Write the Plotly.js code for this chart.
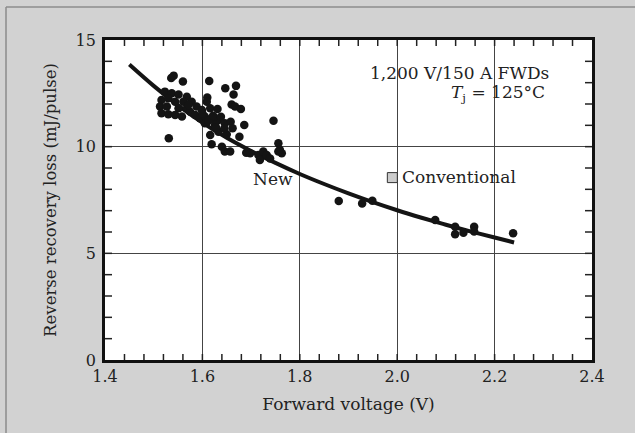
<!DOCTYPE html>
<html>
<head>
<meta charset="utf-8">
<script src="https://cdn.plot.ly/plotly-3.0.1.min.js"></script>
<style>
  html, body { margin: 0; padding: 0; background: #d2d2d2; }
  #chart { width: 635px; height: 433px; }
</style>
</head>
<body>
<div id="chart"></div>
<script>
// "New" FWD measurements: forward voltage (V) and reverse recovery loss (mJ/pulse)
const newVf = [
  1.536, 1.541, 1.560, 1.523, 1.537, 1.551, 1.568, 1.516, 1.530, 1.544,
  1.561, 1.578, 1.513, 1.527, 1.551, 1.568, 1.588, 1.516, 1.530, 1.544,
  1.558, 1.575, 1.585, 1.595, 1.531, 1.571,
  1.614, 1.647, 1.669, 1.664, 1.610, 1.609, 1.660, 1.667, 1.679, 1.599,
  1.616, 1.631, 1.605, 1.619, 1.633, 1.605, 1.626, 1.646, 1.658, 1.686,
  1.616, 1.633, 1.650, 1.662, 1.676, 1.619, 1.640, 1.646, 1.657,
  1.600, 1.612, 1.622, 1.638, 1.645, 1.628,
  1.746, 1.756, 1.759, 1.763, 1.756, 1.698, 1.715, 1.725, 1.718, 1.732,
  1.739, 1.690,
  1.880, 1.928, 1.949, 2.078, 2.119, 2.119, 2.136, 2.158, 2.158, 2.238
];
const newLoss = [
  13.22, 13.33, 13.05, 12.58, 12.50, 12.45, 12.34, 12.19, 12.27, 12.11,
  12.11, 12.11, 11.88, 11.88, 11.80, 11.80, 11.88, 11.57, 11.52, 11.49,
  11.41, 11.64, 11.49, 11.33, 10.39, 11.95,
  13.08, 12.74, 12.85, 12.45, 12.30, 12.11, 11.98, 11.88, 11.77, 11.72,
  11.80, 11.77, 11.41, 11.33, 11.25, 11.10, 11.02, 11.10, 11.17, 11.02,
  10.55, 10.70, 10.58, 10.86, 10.47, 10.11, 10.00, 9.77, 9.77,
  11.55, 11.20, 11.45, 11.40, 10.85, 10.90,
  11.22, 10.16, 9.85, 9.69, 9.77, 9.69, 9.61, 9.77, 9.38, 9.61,
  9.45, 9.72,
  7.45, 7.34, 7.47, 6.56, 6.25, 5.90, 5.97, 6.25, 6.02, 5.94
];

// Fitted trend curve
const curveVf = [1.45, 1.50, 1.55, 1.60, 1.65, 1.70, 1.75, 1.80, 1.85, 1.90,
                 1.95, 2.00, 2.05, 2.10, 2.15, 2.20, 2.24];
const curveLoss = [13.85, 12.85, 11.94, 11.13, 10.42, 9.80, 9.24, 8.72, 8.25, 7.81,
                   7.40, 7.02, 6.67, 6.34, 6.03, 5.74, 5.51];

// Conventional FWD
const convVf = [1.99];
const convLoss = [8.55];

// Axis ranges and tick spacing
const xRange = [1.4, 2.4];
const yRange = [0, 15];
const xMajor = 0.2, xMinor = 0.04;
const yMajor = 5, yMinor = 1;

const FONT = 'DejaVu Serif, Liberation Serif, serif';
const INK = '#141414';
const TICKC = '#222';

const W = 635, H = 433;
const M = {l: 105, r: 43, t: 40, b: 73};
const plotW = W - M.l - M.r, plotH = H - M.t - M.b;
const xTickLen = 6 / plotH, yTickLen = 7 / plotW;   // tick lengths as paper fractions

const traces = [
  {
    x: curveVf, y: curveLoss, mode: 'lines', type: 'scatter',
    line: {color: INK, width: 4, shape: 'spline', smoothing: 1},
    hoverinfo: 'skip', showlegend: false
  },
  {
    x: newVf, y: newLoss, mode: 'markers', type: 'scatter',
    marker: {color: INK, size: 8.5, line: {width: 0}},
    showlegend: false
  },
  {
    x: convVf, y: convLoss, mode: 'markers', type: 'scatter',
    marker: {symbol: 'square', color: '#cccccc', size: 10, line: {color: '#333', width: 1}},
    showlegend: false
  }
];

// inside tick marks on all four sides, placed on the axis scales
const shapes = [];
const tickLine = {color: TICKC, width: 1.5};
const nx = Math.round((xRange[1] - xRange[0]) / xMinor);
for (let k = 1; k < nx; k++) {
  const v = Math.round((xRange[0] + k * xMinor) * 1000) / 1000;
  shapes.push({type: 'line', xref: 'x', yref: 'paper', x0: v, x1: v, y0: 0, y1: xTickLen, line: tickLine});
  shapes.push({type: 'line', xref: 'x', yref: 'paper', x0: v, x1: v, y0: 1, y1: 1 - xTickLen, line: tickLine});
}
const ny = Math.round((yRange[1] - yRange[0]) / yMinor);
for (let k = 1; k < ny; k++) {
  const v = yRange[0] + k * yMinor;
  shapes.push({type: 'line', xref: 'paper', yref: 'y', x0: 0, x1: yTickLen, y0: v, y1: v, line: tickLine});
  shapes.push({type: 'line', xref: 'paper', yref: 'y', x0: 1, x1: 1 - yTickLen, y0: v, y1: v, line: tickLine});
}
// thin border of the grey figure panel (top and left)
shapes.push({type: 'line', xref: 'paper', yref: 'paper', x0: -0.2033, x1: 1.1, y0: 1.103, y1: 1.103,
             line: {color: '#8c8c8c', width: 1.5}});
shapes.push({type: 'line', xref: 'paper', yref: 'paper', x0: -0.2033, x1: -0.2033, y0: 1.103, y1: -0.25,
             line: {color: '#8c8c8c', width: 1.5}});

const layout = {
  width: W, height: H,
  margin: M,
  paper_bgcolor: '#d2d2d2',
  plot_bgcolor: '#ffffff',
  font: {family: FONT, color: INK, size: 16},
  showlegend: false,
  xaxis: {
    range: xRange, tickmode: 'linear', tick0: xRange[0], dtick: xMajor, tickformat: '.1f',
    ticks: '', showgrid: true, gridcolor: '#444', gridwidth: 1,
    showline: true, mirror: true, linecolor: '#111', linewidth: 2.5, zeroline: false,
    tickfont: {family: FONT, size: 16, color: '#222'},
    title: {text: 'Forward voltage (V)', font: {family: FONT, size: 17, color: '#222'}, standoff: 14}
  },
  yaxis: {
    range: yRange, tickmode: 'linear', tick0: yRange[0], dtick: yMajor, ticksuffix: '\u2009',
    ticks: '', showgrid: true, gridcolor: '#444', gridwidth: 1,
    showline: true, mirror: true, linecolor: '#111', linewidth: 2.5, zeroline: false,
    tickfont: {family: FONT, size: 16, color: '#222'},
    title: {text: 'Reverse recovery loss (mJ/pulse)', font: {family: FONT, size: 16.5, color: '#222'}, standoff: 15}
  },
  annotations: [
    {xref: 'x', yref: 'y', x: 2.315, y: 13.45, text: '1,200 V/150 A FWDs', showarrow: false,
     xanchor: 'right', yanchor: 'middle', font: {family: FONT, size: 17, color: '#222'}},
    {xref: 'x', yref: 'y', x: 2.307, y: 12.5, text: '<i>T</i><sub>j</sub> = 125°C', showarrow: false,
     xanchor: 'right', yanchor: 'middle', font: {family: FONT, size: 17, color: '#222'}},
    {xref: 'x', yref: 'y', x: 1.745, y: 8.5, text: 'New', showarrow: false,
     xanchor: 'center', yanchor: 'middle', font: {family: FONT, size: 17, color: '#222'}},
    {xref: 'x', yref: 'y', x: 2.005, y: 8.58, text: 'Conventional', showarrow: false,
     xanchor: 'left', yanchor: 'middle', font: {family: FONT, size: 17, color: '#222'}}
  ],
  shapes: shapes
};

Plotly.newPlot('chart', traces, layout, {displayModeBar: false});
</script>
</body>
</html>
